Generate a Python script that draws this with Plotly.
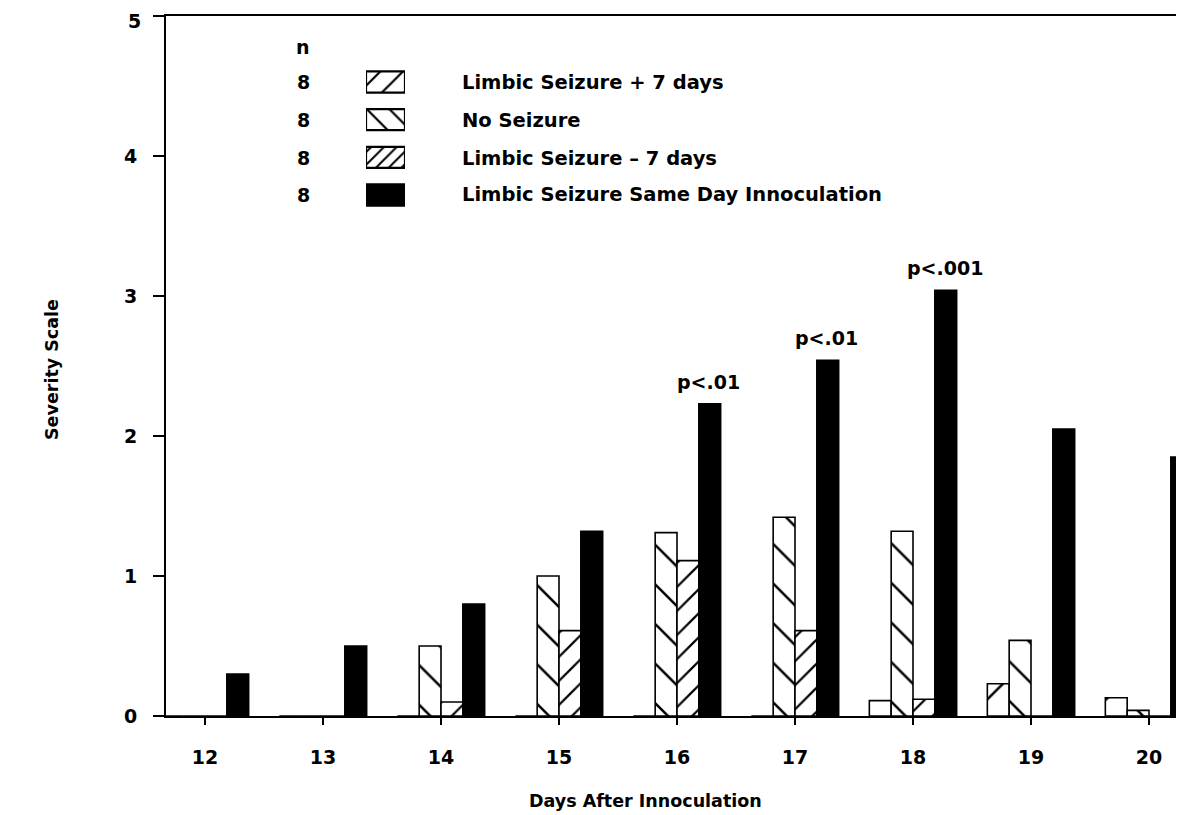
import plotly.graph_objects as go

# ---- data ----
days = [12, 13, 14, 15, 16, 17, 18, 19, 20]
plus7 = [0, 0, 0, 0, 0, 0, 0.11, 0.23, 0.13]
no_seizure = [0, 0, 0.5, 1.0, 1.31, 1.42, 1.32, 0.54, 0.04]
minus7 = [0, 0, 0.1, 0.61, 1.11, 0.61, 0.12, 0, 0]
same_day = [0.30, 0.50, 0.80, 1.32, 2.23, 2.54, 3.04, 2.05, 1.85]

series_names = ["Limbic Seizure + 7 days", "No Seizure",
                "Limbic Seizure \u2013 7 days", "Limbic Seizure Same Day Innoculation"]
series_n = [8, 8, 8, 8]
p_days = [16, 17, 18]
p_labels = ["p&lt;.01", "p&lt;.01", "p&lt;.001"]
y_ticks = [0, 1, 2, 3, 4, 5]

FONT = "DejaVu Sans"
FS = 19

# the page body has an 8px margin: the figure is drawn from screen (8, 8)
OFF = 8
FIG_W, FIG_H = 1184 - OFF, 815 - OFF

# plot area in screen pixels (right edge runs to the page edge; border drawn at 1179)
L, R, T, B = 166, 1184, 16, 716
W, H = R - L, B - T
BORDER_R = 1179


def px(x):
    return (x - L) / W


def py(y):
    return (B - y) / H


def bold(size=FS):
    return dict(family=FONT, size=size, color="black", weight="bold")


patterns = [
    dict(shape="/", size=28, solidity=0.09, fgcolor="black", bgcolor="white", fgopacity=1, fillmode="replace"),
    dict(shape="\\", size=28, solidity=0.09, fgcolor="black", bgcolor="white", fgopacity=1, fillmode="replace"),
    dict(shape="/", size=17, solidity=0.13, fgcolor="black", bgcolor="white", fgopacity=1, fillmode="replace"),
    None,
]
values = [plus7, no_seizure, minus7, same_day]

fig = go.Figure()
for name, vals, pat in zip(series_names, values, patterns):
    marker = dict(color="white" if pat else "black", line=dict(color="black", width=1.6))
    if pat:
        marker["pattern"] = pat
    fig.add_trace(go.Bar(x=days, y=vals, name=name, marker=marker,
                         showlegend=False, cliponaxis=False))

# legend swatches drawn on an auxiliary hidden axis
rows_px = [82, 120, 158, 195]
for k, (name, pat) in enumerate(zip(series_names, patterns)):
    marker = dict(color="white" if pat else "black", line=dict(color="black", width=2.2))
    if pat:
        p2 = dict(pat)
        p2["size"] = 16 if k < 2 else 9
        p2["solidity"] = 0.14 if k < 2 else 0.22
        marker["pattern"] = p2
    fig.add_trace(go.Bar(x=[1], y=[k], orientation="h", width=0.56, offsetgroup="legend",
                         marker=marker, xaxis="x2", yaxis="y2", showlegend=False,
                         hoverinfo="skip"))


def note(x, y, text, size=FS, xanchor="center", **kw):
    return dict(x=px(x), y=py(y), xref="paper", yref="paper", text=text, showarrow=False,
                xanchor=xanchor, yanchor="middle", font=bold(size), **kw)


annotations = [note(303, 47, "n")]
for k, (name, n) in enumerate(zip(series_names, series_n)):
    annotations.append(note(303, rows_px[k], str(n)))
    annotations.append(note(460, rows_px[k], name, size=19.5, xanchor="left"))

for d, lab in zip(p_days, p_labels):
    v = same_day[days.index(d)]
    annotations.append(dict(x=d + 0.27, y=v, xref="x", yref="y", text=lab, xanchor="center",
                            yanchor="bottom", yshift=9, showarrow=False, font=bold()))

# top y tick label drawn a little lower so it stays inside the page
annotations.append(dict(x=px(143), y=y_ticks[-1], xref="paper", yref="y", text=str(y_ticks[-1]),
                        xanchor="right", yanchor="middle", yshift=-5, showarrow=False,
                        font=bold()))

annotations.append(note(645, 801, "Days After Innoculation", size=17.5))
annotations.append(note(52, 370, "Severity Scale", size=17.5, textangle=-90))

row_h = 37.7
day_px = 118.0
x_left = 12 - (205 - L) / day_px
x_right = 12 + (R - 205) / day_px

fig.update_layout(
    width=FIG_W, height=FIG_H,
    margin=dict(l=L - OFF, r=FIG_W - (R - OFF), t=T - OFF, b=FIG_H - (B - OFF), autoexpand=False),
    paper_bgcolor="white", plot_bgcolor="rgba(0,0,0,0)",
    barmode="group", bargap=0.26, bargroupgap=0,
    showlegend=False,
    annotations=annotations,
    shapes=[dict(type="line", xref="paper", yref="paper", x0=px(BORDER_R), x1=px(BORDER_R),
                 y0=0, y1=1, line=dict(color="black", width=2))],
    xaxis=dict(range=[x_left, x_right], tickmode="array", tickvals=days,
               ticktext=[str(d) for d in days], automargin=False,
               ticks="outside", ticklen=7, tickwidth=1.5, tickcolor="black",
               showline=True, linecolor="black", linewidth=2, mirror=True,
               showgrid=False, zeroline=False, ticklabelstandoff=16,
               tickfont=bold()),
    yaxis=dict(range=[0, 5], tickmode="array", tickvals=y_ticks,
               ticktext=[str(t) for t in y_ticks[:-1]] + [""], automargin=False,
               ticks="outside", ticklen=11, tickwidth=1.5, tickcolor="black",
               showline=True, linecolor="black", linewidth=2, mirror=False,
               showgrid=False, zeroline=False, ticklabelstandoff=12,
               tickfont=bold()),
    xaxis2=dict(domain=[px(366), px(405)], range=[0, 1], visible=False, anchor="y2",
                fixedrange=True, automargin=False),
    yaxis2=dict(domain=[py(rows_px[-1] + row_h / 2), py(rows_px[0] - row_h / 2)],
                range=[3.5, -0.5], visible=False, anchor="x2", fixedrange=True, automargin=False),
)

fig.write_html("out.html")
